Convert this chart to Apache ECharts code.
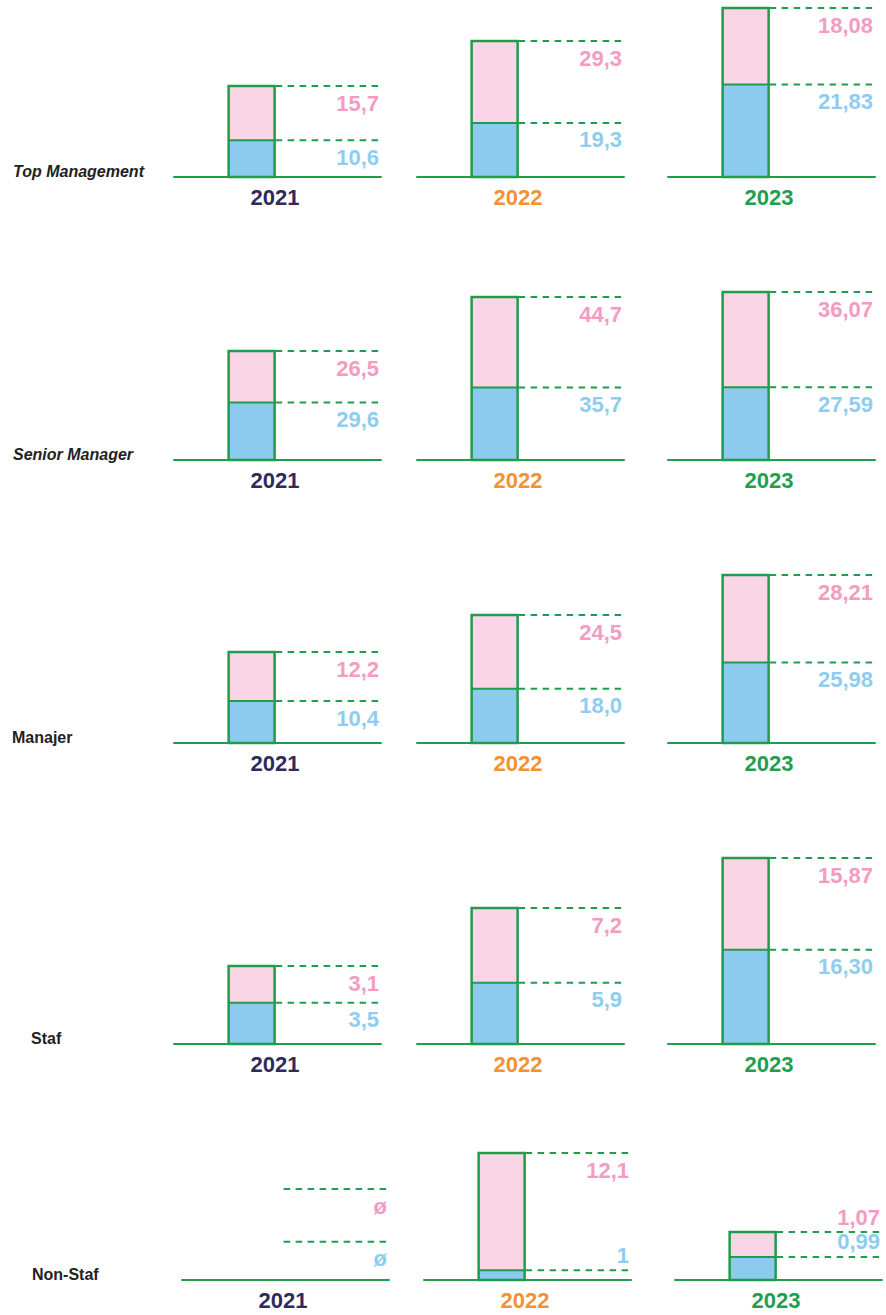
<!DOCTYPE html>
<html><head><meta charset="utf-8">
<script src="https://cdn.jsdelivr.net/npm/echarts@6/dist/echarts.min.js"></script>
<style>html,body{margin:0;padding:0;background:#fff}#c{width:886px;height:1315px}</style>
</head><body><div id="c"></div>
<script>
// ---------- DATA ----------
const categories = ['Top Management', 'Senior Manager', 'Manajer', 'Staf', 'Non-Staf'];
const years = ['2021', '2022', '2023'];
// printed values (comma decimals); null = no data (shown as ø)
const blueTopManagement = ['10,6', '19,3', '21,83'];
const blueSeniorManager = ['29,6', '35,7', '27,59'];
const blueManajer       = ['10,4', '18,0', '25,98'];
const blueStaf          = ['3,5', '5,9', '16,30'];
const blueNonStaf       = [null, '1', '0,99'];
const pinkTopManagement = ['15,7', '29,3', '18,08'];
const pinkSeniorManager = ['26,5', '44,7', '36,07'];
const pinkManajer       = ['12,2', '24,5', '28,21'];
const pinkStaf          = ['3,1', '7,2', '15,87'];
const pinkNonStaf       = [null, '12,1', '1,07'];
const emptyMark = 'ø';

const blueValues = [blueTopManagement, blueSeniorManager, blueManajer, blueStaf, blueNonStaf];
const pinkValues = [pinkTopManagement, pinkSeniorManager, pinkManajer, pinkStaf, pinkNonStaf];

// ---------- LAYOUT / STYLE ----------
const FONT = "'Liberation Sans', Arial, Helvetica, sans-serif";
const GREEN = '#1f9d4c';
const BLUE_FILL = '#8ccbee', PINK_FILL = '#f9d5e6';
const BLUE_TEXT = '#8fcdf0', PINK_TEXT = '#f49bc2';
const yearColors = ['#2e2a5e', '#f39234', '#1f9e4f'];
const rowBase = [177, 460, 743, 1044, 1280];
const colLeft = [[174, 417, 668], [174, 417, 668], [174, 417, 668], [174, 417, 668], [182, 424, 675]];
const barTopPx = [[85, 40, 7], [350, 296, 291], [651, 614, 574], [965, 907, 857], [1188, 1152, 1231]];
const panelWidth = 207;
const barWidth = 46;
const rowLabelLeft = [13, 13, 12, 31, 32];
const rowLabelItalic = [true, true, false, false, false];
const labelAbove = { '4-1-blue': true, '4-2-blue': true, '4-2-pink': true };
const emptyLevels = { blue: 0.42, pink: 1 };

const num = s => (s == null ? null : parseFloat(s.replace(',', '.')));

const grid = [], xAxis = [], yAxis = [], series = [], graphic = [];
let gi = 0;
for (let r = 0; r < categories.length; r++) {
  graphic.push({
    type: 'text', x: rowLabelLeft[r], y: rowBase[r] - 6,
    style: { text: categories[r], fill: '#222', fontSize: 16, fontWeight: 'bold',
      fontStyle: rowLabelItalic[r] ? 'italic' : 'normal', fontFamily: FONT, verticalAlign: 'middle' }
  });
  for (let c = 0; c < years.length; c++) {
    const b = num(blueValues[r][c]), p = num(pinkValues[r][c]);
    const has = b != null && p != null;
    const total = has ? b + p : 1;
    const top = barTopPx[r][c] + 1;
    grid.push({ left: colLeft[r][c], width: panelWidth, top: top, height: rowBase[r] - top });
    xAxis.push({
      gridIndex: gi, type: 'category', data: ['', '', '', ''], boundaryGap: true, z: 1,
      axisLine: { lineStyle: { color: GREEN, width: 2 } }, axisTick: { show: false }, axisLabel: { show: false },
      name: years[c], nameLocation: 'middle', nameGap: 9,
      nameTextStyle: { color: yearColors[c], fontSize: 22, fontWeight: 'bold', fontFamily: FONT, padding: [0, 5, 0, 0] }
    });
    yAxis.push({ gridIndex: gi, type: 'value', min: 0, max: total, show: false });
    if (has) {
      series.push({
        type: 'bar', name: 'blue', xAxisIndex: gi, yAxisIndex: gi, stack: 's' + gi, barWidth: barWidth, silent: true,
        data: [null, b, null, null], itemStyle: { color: BLUE_FILL }
      });
      series.push({
        type: 'bar', name: 'pink', xAxisIndex: gi, yAxisIndex: gi, stack: 's' + gi, barWidth: barWidth, silent: true,
        data: [null, p, null, null], itemStyle: { color: PINK_FILL }
      });
    }
    const levels = has ? [b, b + p] : [emptyLevels.blue * total, emptyLevels.pink * total];
    const info = [
      { text: has ? blueValues[r][c] : emptyMark, color: BLUE_TEXT, above: !!labelAbove[r + '-' + c + '-blue'] },
      { text: has ? pinkValues[r][c] : emptyMark, color: PINK_TEXT, above: !!labelAbove[r + '-' + c + '-pink'] }
    ];
    series.push({
      type: 'custom', xAxisIndex: gi, yAxisIndex: gi, silent: true, z: 5,
      data: [[1, levels[0]], [1, levels[1]]],
      renderItem: (function (info, has) {
        return function (params, api) {
          const pt = api.coord([api.value(0), api.value(1)]);
          const base = api.coord([api.value(0), 0]);
          const cs = params.coordSys;
          const half = barWidth / 2;
          const x0 = pt[0] + half;
          const x1 = cs.x + cs.width;
          const it = info[params.dataIndex];
          const children = [
            { type: 'line', shape: { x1: x0 + 1, y1: pt[1], x2: x1, y2: pt[1] },
              style: { stroke: GREEN, lineWidth: 2, lineDash: [6.5, 5.5] } },
            { type: 'text', x: x1 - 2, y: it.above ? pt[1] - 4 : pt[1] + 6,
              style: { text: it.text, fill: it.color, fontSize: 22, fontWeight: 'bold', fontFamily: FONT,
                align: 'right', verticalAlign: it.above ? 'bottom' : 'top' } }
          ];
          if (has) {
            if (params.dataIndex === 0) {
              children.push({ type: 'line', shape: { x1: pt[0] - half, y1: pt[1], x2: pt[0] + half, y2: pt[1] },
                style: { stroke: GREEN, lineWidth: 2 } });
            } else {
              children.push({ type: 'rect', shape: { x: pt[0] - half, y: pt[1], width: barWidth, height: base[1] - pt[1] },
                style: { fill: null, stroke: GREEN, lineWidth: 2.5 } });
            }
          }
          return { type: 'group', children };
        };
      })(info, has)
    });
    gi++;
  }
}

const chart = echarts.init(document.getElementById('c'), null, { renderer: 'svg' });
chart.setOption({ animation: false, backgroundColor: '#fff', grid, xAxis, yAxis, series, graphic });
</script>
</body></html>
